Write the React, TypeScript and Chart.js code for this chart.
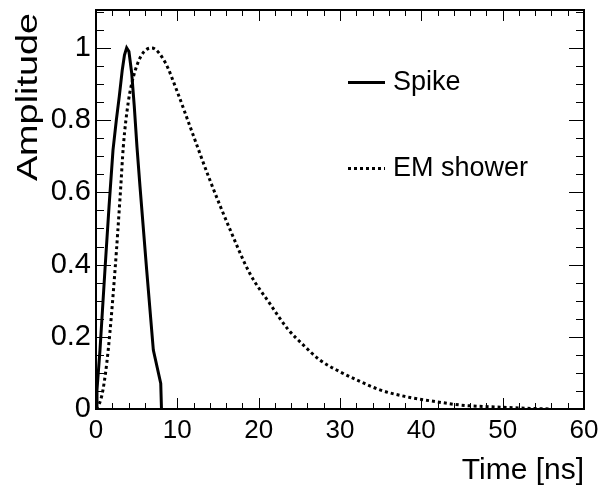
import React, { useEffect, useRef } from "react";
import { Chart, registerables } from "chart.js";

Chart.register(...registerables);

// Spike pulse (solid)
const spikeTime = [0, 0.12, 0.49, 1.1, 1.6, 2.09, 2.5, 2.86, 3.23, 3.5, 3.77, 4.05, 4.39, 4.7, 5.04, 5.41, 6.23, 7.05, 7.96, 8.05];
const spikeAmp = [0, 0.053, 0.163, 0.385, 0.56, 0.717, 0.8, 0.865, 0.939, 0.98, 1.0, 0.99, 0.93, 0.84, 0.725, 0.616, 0.385, 0.163, 0.071, 0];

// EM shower pulse (dotted)
const emTime = [0, 0.5, 0.86, 1.5, 2.34, 3.0, 3.36, 3.97, 4.6, 5.6, 6.85, 8.5, 9.9, 11.6, 14.0, 16.5, 18.9, 21.4, 23.6, 25.5, 27.5, 30.0, 32.5, 34.9, 38.6, 41.9, 44.8, 49.7, 53.0, 55.8];
const emAmp = [0, 0.02, 0.053, 0.163, 0.385, 0.6, 0.727, 0.85, 0.92, 0.98, 1.0, 0.96, 0.884, 0.78, 0.634, 0.496, 0.376, 0.291, 0.221, 0.177, 0.136, 0.103, 0.076, 0.053, 0.032, 0.02, 0.011, 0.005, 0.002, 0];

const seriesLabels = ["Spike", "EM shower"];
const xTickValues = [0, 10, 20, 30, 40, 50, 60];
const yTickValues = [0, 0.2, 0.4, 0.6, 0.8, 1];
const xTitle = "Time [ns]";
const yTitle = "Amplitude";

const FONT = "'Liberation Sans', Arial, Helvetica, sans-serif";

const framePlugin = {
  id: "frameTicks",
  afterDatasetsDraw(chart: any) {
    const { ctx, chartArea: a, scales } = chart;
    const x = scales.x;
    const y = scales.y;
    ctx.save();
    ctx.strokeStyle = "#000";
    ctx.lineWidth = 1;
    ctx.beginPath();
    for (let i = 0; i <= 30; i++) {
      const px = Math.round(x.getPixelForValue(i * 2)) + 0.5;
      const major = i % 5 === 0;
      const len = major ? 11 : 6;
      ctx.moveTo(px, a.bottom);
      ctx.lineTo(px, a.bottom - len);
      ctx.moveTo(px, a.top);
      ctx.lineTo(px, a.top + len);
    }
    for (let i = 0; i <= 22; i++) {
      const v = i * 0.05;
      if (v > y.max) break;
      const py = Math.round(y.getPixelForValue(v)) + 0.5;
      const major = i % 4 === 0;
      const len = major ? 15 : 8;
      ctx.moveTo(a.left, py);
      ctx.lineTo(a.left + len, py);
      ctx.moveTo(a.right, py);
      ctx.lineTo(a.right - len, py);
    }
    ctx.stroke();
    ctx.lineWidth = 2;
    ctx.strokeRect(a.left, a.top, a.right - a.left, a.bottom - a.top);

    // legend
    const rows = [a.top + 72.5, a.top + 158.5];
    chart.data.datasets.forEach((ds: any, i: number) => {
      const yy = rows[i];
      ctx.beginPath();
      ctx.lineWidth = ds.borderWidth;
      ctx.setLineDash(ds.borderDash || []);
      ctx.strokeStyle = ds.borderColor;
      ctx.moveTo(a.left + 252, yy);
      ctx.lineTo(a.left + 289, yy);
      ctx.stroke();
      ctx.setLineDash([]);
      ctx.fillStyle = "#000";
      ctx.font = `27px ${FONT}`;
      ctx.textBaseline = "middle";
      ctx.textAlign = "left";
      ctx.fillText(ds.label, a.left + 297, yy);
    });

    // y-axis title (stretched along its length like the reference)
    ctx.save();
    ctx.translate(29, a.top + 3);
    ctx.rotate(-Math.PI / 2);
    ctx.scale(1.26, 1);
    ctx.font = `30px ${FONT}`;
    ctx.fillStyle = "#000";
    ctx.textAlign = "right";
    ctx.textBaseline = "middle";
    ctx.fillText(yTitle, 0, 0);
    ctx.restore();

    ctx.restore();
  },
};

export default function App() {
  const ref = useRef<HTMLCanvasElement | null>(null);
  useEffect(() => {
    if (!ref.current) return;
    const chart = new Chart(ref.current, {
      type: "line",
      data: {
        datasets: [
          {
            label: seriesLabels[0],
            data: spikeTime.map((t, i) => ({ x: t, y: spikeAmp[i] })),
            borderColor: "#000",
            borderWidth: 3,
            pointRadius: 0,
            tension: 0,
            fill: false,
          },
          {
            label: seriesLabels[1],
            data: emTime.map((t, i) => ({ x: t, y: emAmp[i] })),
            borderColor: "#000",
            borderWidth: 3,
            borderDash: [3, 3],
            pointRadius: 0,
            cubicInterpolationMode: "monotone",
            fill: false,
          },
        ],
      },
      options: {
        animation: false,
        responsive: false,
        devicePixelRatio: 1,
        layout: { padding: { top: 10, right: 18, left: 0, bottom: 0 } },
        plugins: { legend: { display: false }, tooltip: { enabled: false } },
        scales: {
          x: {
            type: "linear",
            min: 0,
            max: 60,
            afterBuildTicks: (s: any) => {
              s.ticks = xTickValues.map((v) => ({ value: v }));
            },
            afterFit: (s: any) => {
              s.height = 78;
              s.paddingLeft = 0;
              s.paddingRight = 0;
            },
            grid: { display: false, drawTicks: false },
            border: { display: false },
            ticks: {
              color: "#000",
              font: { family: FONT, size: 26 },
              padding: 6,
              maxRotation: 0,
              autoSkip: false,
            },
            title: {
              display: true,
              text: xTitle,
              align: "end",
              color: "#000",
              font: { family: FONT, size: 30 },
              padding: { top: 0, bottom: -2 },
            },
          },
          y: {
            type: "linear",
            min: 0,
            max: 1.105,
            afterBuildTicks: (s: any) => {
              s.ticks = yTickValues.map((v) => ({ value: v }));
            },
            afterFit: (s: any) => {
              s.width = 96;
              s.paddingTop = 0;
              s.paddingBottom = 0;
            },
            grid: { display: false, drawTicks: false },
            border: { display: false },
            ticks: {
              color: "#000",
              font: { family: FONT, size: 29 },
              padding: 5,
              autoSkip: false,
              callback: (v: any) => String(Number(Number(v).toFixed(2))),
            },
          },
        },
      },
      plugins: [framePlugin],
    } as any);
    return () => chart.destroy();
  }, []);
  return (
    <div style={{ position: "fixed", left: 0, top: 0, width: 602, height: 487, background: "#fff" }}>
      <canvas ref={ref} width={602} height={487} style={{ display: "block" }} />
    </div>
  );
}
